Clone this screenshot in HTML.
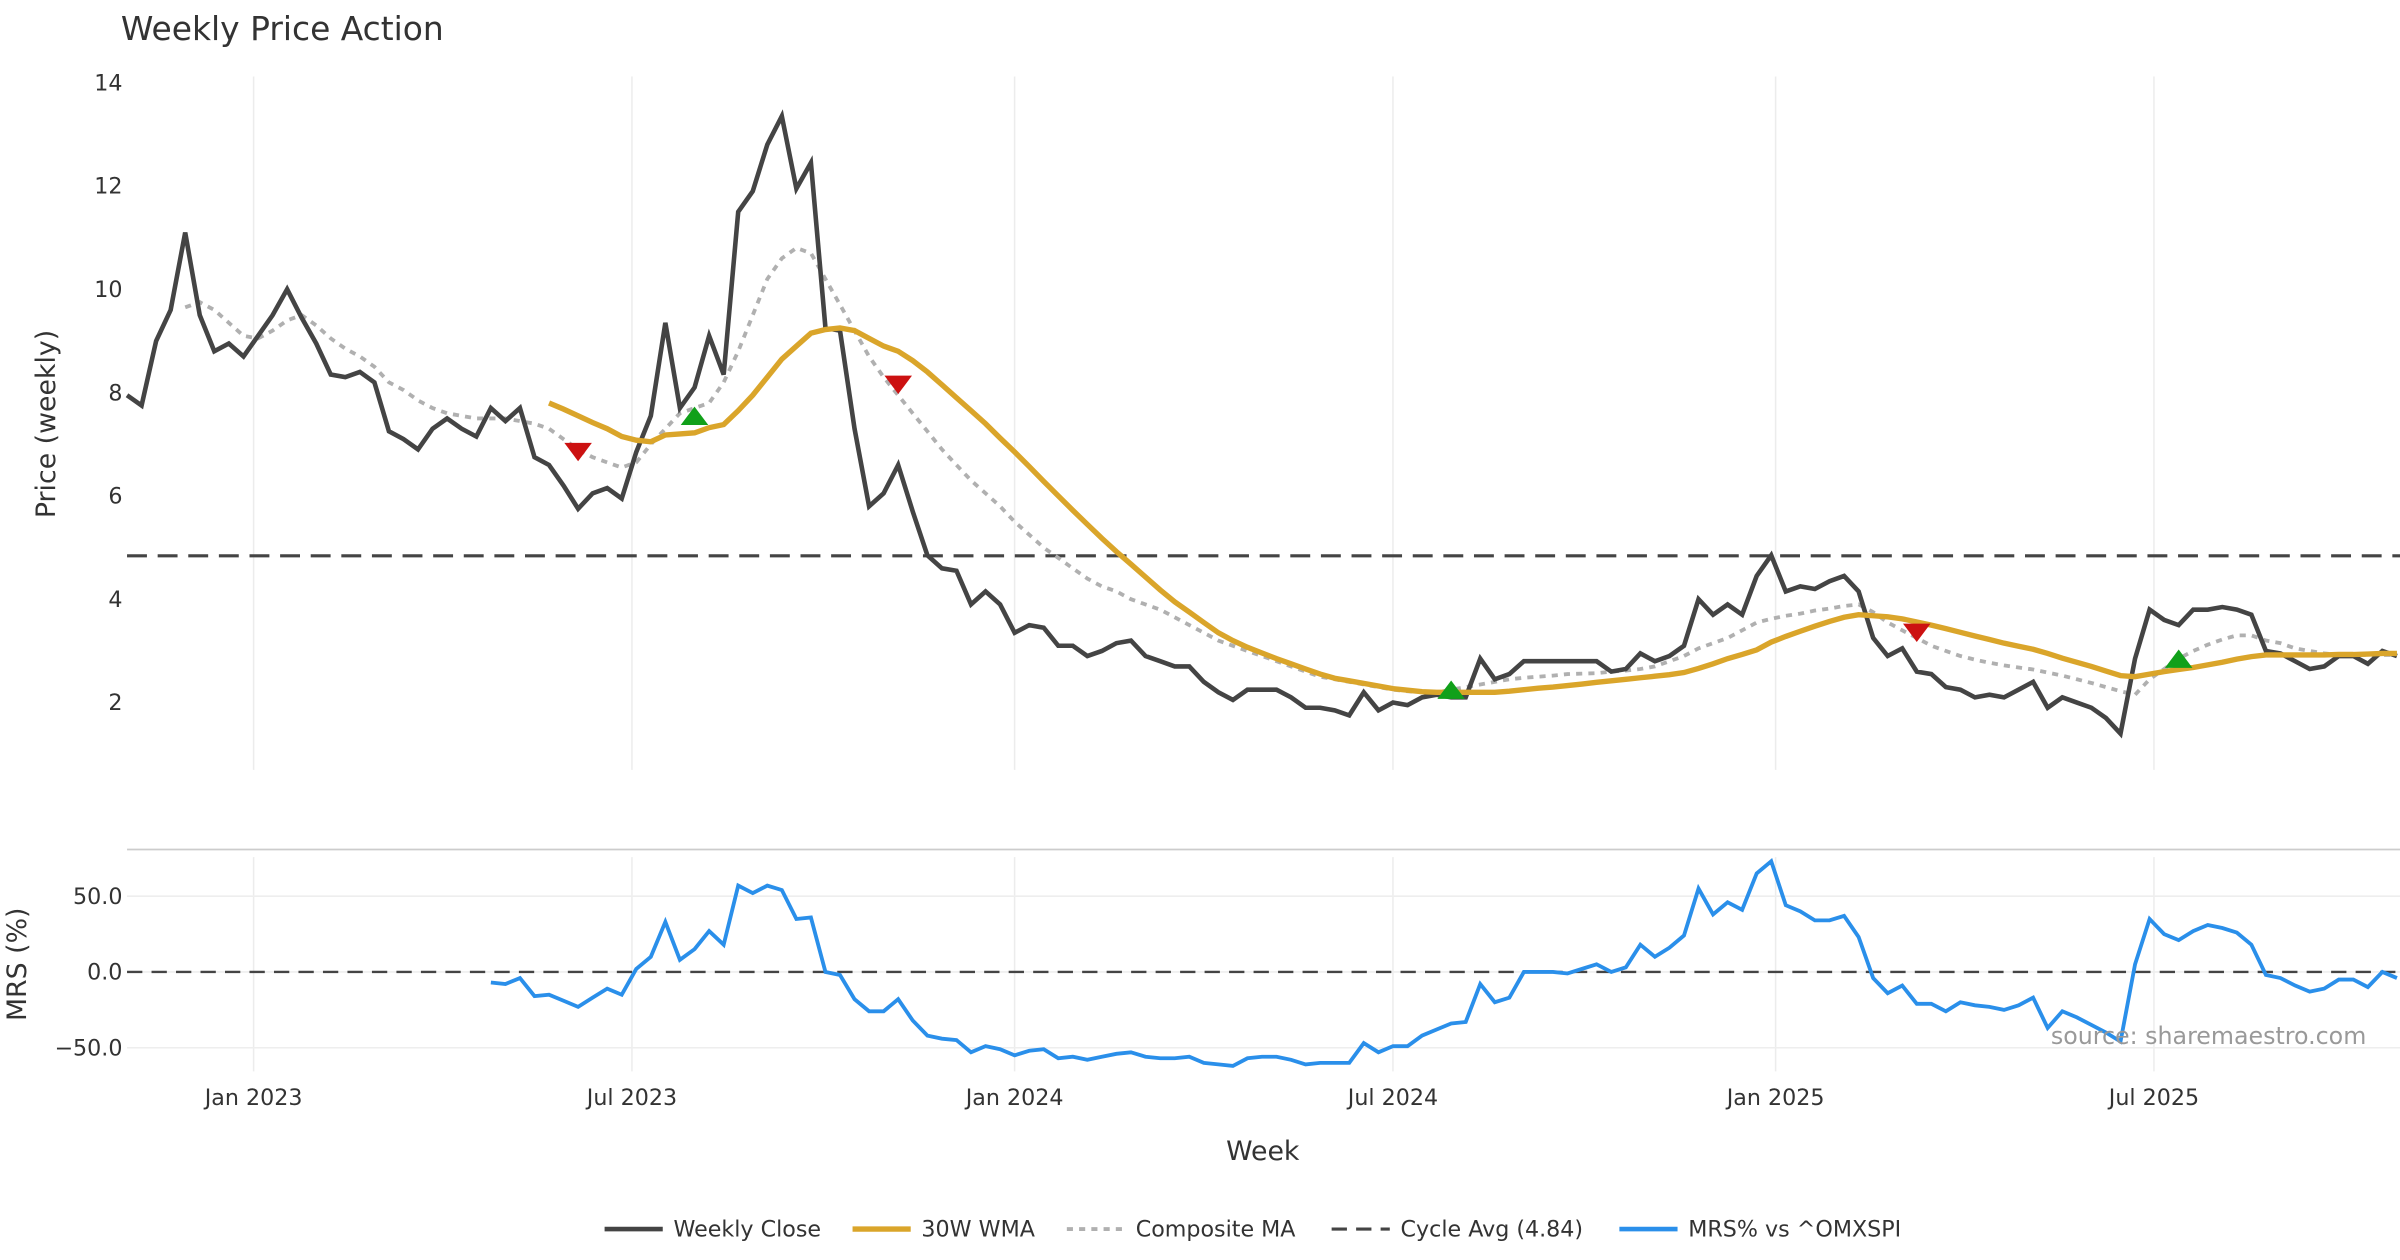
<!DOCTYPE html>
<html><head><meta charset="utf-8"><style>
html,body{margin:0;padding:0;background:#fff}
svg{display:block}
text{font-family:"DejaVu Sans","Liberation Sans",sans-serif}
</style></head><body>
<svg id="chart" width="2400" height="1260" viewBox="0 0 1568 823.2" xmlns="http://www.w3.org/2000/svg">
<rect width="1568" height="823.2" fill="#fff"/>
<text x="79" y="26" font-size="21.5" fill="#333">Weekly Price Action</text>
<g id="grid"></g>
<g id="axes"></g>
<g id="series"></g>
<text transform="translate(36,277) rotate(-90)" text-anchor="middle" font-size="17.5" fill="#333">Price (weekly)</text>
<text transform="translate(17,630) rotate(-90)" text-anchor="middle" font-size="17.5" fill="#333">MRS (%)</text>
<text x="825" y="758" text-anchor="middle" font-size="17.5" fill="#333">Week</text>
<text x="1546" y="682" text-anchor="end" font-size="15.5" fill="#999">source: sharemaestro.com</text>
<g id="legend"></g>
</svg>
<script>
const closeVals=[7.95,7.75,9.0,9.6,11.1,9.5,8.8,8.95,8.7,9.1,9.5,10.0,9.45,8.95,8.35,8.3,8.4,8.2,7.25,7.1,6.9,7.3,7.5,7.3,7.15,7.7,7.45,7.7,6.75,6.6,6.2,5.75,6.05,6.15,5.95,6.85,7.55,9.35,7.7,8.1,9.1,8.35,11.5,11.9,12.8,13.35,11.95,12.45,9.25,9.2,7.3,5.8,6.05,6.6,5.7,4.85,4.6,4.55,3.9,4.15,3.9,3.35,3.5,3.45,3.1,3.1,2.9,3.0,3.15,3.2,2.9,2.8,2.7,2.7,2.4,2.2,2.05,2.25,2.25,2.25,2.1,1.9,1.9,1.85,1.75,2.2,1.85,2.0,1.95,2.1,2.15,2.1,2.1,2.85,2.45,2.55,2.8,2.8,2.8,2.8,2.8,2.8,2.6,2.65,2.95,2.8,2.9,3.1,4.0,3.7,3.9,3.7,4.45,4.85,4.15,4.25,4.2,4.35,4.45,4.15,3.25,2.9,3.05,2.6,2.55,2.3,2.25,2.1,2.15,2.1,2.25,2.4,1.9,2.1,2.0,1.9,1.7,1.4,2.85,3.8,3.6,3.5,3.8,3.8,3.85,3.8,3.7,3.0,2.95,2.8,2.65,2.7,2.9,2.9,2.75,3.0,2.9];
const wmaStart=29;
const wmaVals=[7.8,7.68,7.55,7.42,7.3,7.15,7.08,7.05,7.18,7.2,7.22,7.32,7.38,7.65,7.95,8.3,8.65,8.9,9.15,9.22,9.25,9.2,9.05,8.9,8.8,8.62,8.4,8.15,7.9,7.65,7.4,7.12,6.85,6.57,6.28,6.0,5.72,5.45,5.18,4.92,4.68,4.43,4.18,3.95,3.75,3.55,3.35,3.2,3.07,2.96,2.85,2.75,2.65,2.55,2.47,2.42,2.37,2.32,2.27,2.24,2.21,2.2,2.2,2.2,2.2,2.2,2.22,2.25,2.28,2.3,2.33,2.36,2.39,2.42,2.45,2.48,2.51,2.54,2.58,2.66,2.75,2.85,2.93,3.02,3.17,3.28,3.38,3.48,3.57,3.65,3.7,3.68,3.66,3.62,3.56,3.5,3.43,3.36,3.29,3.22,3.15,3.09,3.03,2.95,2.86,2.78,2.7,2.61,2.52,2.5,2.55,2.6,2.64,2.68,2.73,2.78,2.84,2.89,2.92,2.92,2.92,2.92,2.92,2.93,2.93,2.94,2.95,2.95];
const compStart=4;
const compVals=[9.65,9.75,9.6,9.35,9.1,9.05,9.2,9.4,9.5,9.3,9.05,8.85,8.7,8.5,8.2,8.05,7.85,7.7,7.6,7.55,7.5,7.5,7.5,7.45,7.4,7.3,7.1,6.9,6.75,6.65,6.55,6.65,7.0,7.3,7.6,7.7,7.8,8.2,8.8,9.5,10.2,10.6,10.8,10.7,10.2,9.7,9.2,8.7,8.3,7.95,7.6,7.25,6.9,6.6,6.3,6.05,5.8,5.5,5.25,5.0,4.8,4.6,4.4,4.25,4.15,4.0,3.9,3.8,3.65,3.5,3.35,3.2,3.1,3.0,2.9,2.8,2.7,2.6,2.5,2.45,2.4,2.35,2.3,2.25,2.22,2.2,2.2,2.25,2.3,2.35,2.4,2.45,2.48,2.5,2.52,2.55,2.56,2.57,2.6,2.62,2.65,2.7,2.8,2.9,3.05,3.15,3.25,3.4,3.55,3.62,3.68,3.72,3.78,3.82,3.87,3.9,3.75,3.55,3.4,3.25,3.1,3.0,2.9,2.83,2.77,2.72,2.68,2.64,2.58,2.52,2.45,2.38,2.3,2.22,2.15,2.45,2.65,2.85,3.0,3.12,3.22,3.3,3.3,3.2,3.15,3.05,3.0,2.95,2.92,2.92,2.92,2.92,2.92];
const mrsStart=25;
const mrsVals=[-7,-8,-4,-16,-15,-19,-23,-17,-11,-15,2,10,33,8,15,27,18,57,52,57,54,35,36,0,-2,-18,-26,-26,-18,-32,-42,-44,-45,-53,-49,-51,-55,-52,-51,-57,-56,-58,-56,-54,-53,-56,-57,-57,-56,-60,-61,-62,-57,-56,-56,-58,-61,-60,-60,-60,-47,-53,-49,-49,-42,-38,-34,-33,-8,-20,-17,0,0,0,-1,2,5,0,3,18,10,16,24,55,38,46,41,65,73,44,40,34,34,37,23,-4,-14,-9,-21,-21,-26,-20,-22,-23,-25,-22,-17,-37,-26,-30,-35,-40,-46,5,35,25,21,27,31,29,26,18,-2,-4,-9,-13,-11,-5,-5,-10,0,-4];
const cycleAvg=4.84;
const sellIdx=[31,53,123];
const sellVals=[6.85,8.15,3.35];
const buyIdx=[39,91,141];
const buyVals=[7.55,2.25,2.85];
const priceTicks=[2,4,6,8,10,12,14];
const mrsTicks=[-50,0,50];
const mrsTickLabels=["\u221250.0","0.0","50.0"];
const monthIdx=[8.7,34.7,61,87,113.3,139.3];
const monthLabels=["Jan 2023","Jul 2023","Jan 2024","Jul 2024","Jan 2025","Jul 2025"];

const NS="http://www.w3.org/2000/svg";
const X0=83, STEP=(1566-83)/156;
const xS=i=>X0+i*STEP;
const yP=v=>459-(v-2)*33.75;
const yM=v=>635-v*0.99;
function mk(tag,attrs,parent){const e=document.createElementNS(NS,tag);for(const k in attrs)e.setAttribute(k,attrs[k]);parent.appendChild(e);return e;}
const grid=document.getElementById('grid'),axes=document.getElementById('axes'),ser=document.getElementById('series'),leg=document.getElementById('legend');

monthIdx.forEach((m,k)=>{
  const x=xS(m);
  const g1=mk('line',{x1:x,x2:x,y1:50,y2:503,stroke:'#ececec','stroke-width':1},grid);
  
  
  const g2=mk('line',{x1:x,x2:x,y1:560,y2:700,stroke:'#ececec','stroke-width':1},grid);
  
  
  const t=mk('text',{x:x,y:722,'text-anchor':'middle','font-size':14.5,fill:'#333'},axes);
  t.textContent=monthLabels[k];
  
  
});
priceTicks.forEach(v=>{
  const t=mk('text',{x:80,y:yP(v)+5,'text-anchor':'end','font-size':14.5,fill:'#333'},axes);
  t.textContent=v;
  
  
});
mrsTicks.forEach((v,k)=>{
  const l=mk('line',{x1:83,x2:1568,y1:yM(v),y2:yM(v),stroke:'#eeeeee','stroke-width':1},grid);
  
  
  const t=mk('text',{x:80,y:yM(v)+5,'text-anchor':'end','font-size':14.5,fill:'#333'},axes);
  t.textContent=mrsTickLabels[k];
  
  
});
const sep=mk('line',{x1:83,x2:1568,y1:555,y2:555,stroke:'#cccccc','stroke-width':1.2},axes);



function path(vals,start,ys){return vals.map((v,k)=>(k?'L':'M')+xS(start+k).toFixed(1)+','+ys(v).toFixed(1)).join('');}

const cy=mk('line',{x1:83,x2:1568,y1:yP(cycleAvg),y2:yP(cycleAvg),stroke:'#444','stroke-width':2,'stroke-dasharray':'13,7'},ser);


const zl=mk('line',{x1:83,x2:1568,y1:yM(0),y2:yM(0),stroke:'#444','stroke-width':1.6,'stroke-dasharray':'10,6'},ser);



const cm=mk('path',{d:path(compVals,compStart,yP),fill:'none',stroke:'#b0b0b0','stroke-width':2.5,'stroke-dasharray':'4,4'},ser);


const cl=mk('path',{d:path(closeVals,0,yP),fill:'none',stroke:'#444','stroke-width':3,'stroke-linejoin':'miter'},ser);


const wm=mk('path',{d:path(wmaVals,wmaStart,yP),fill:'none',stroke:'#DAA52A','stroke-width':3.5},ser);


const mr=mk('path',{d:path(mrsVals,mrsStart,yM),fill:'none',stroke:'#2A8FEA','stroke-width':2.5},ser);



sellIdx.forEach((i,k)=>{
  const x=xS(i),y=yP(sellVals[k]);
  const p=mk('polygon',{points:`${x-9},${y-6} ${x+9},${y-6} ${x},${y+6}`,fill:'#CC1111'},ser);
  
  
});
buyIdx.forEach((i,k)=>{
  const x=xS(i),y=yP(buyVals[k]);
  const p=mk('polygon',{points:`${x-9},${y+6} ${x+9},${y+6} ${x},${y-6}`,fill:'#11A01A'},ser);
  
  
});

const legItems=[
 {x:395,label:'Weekly Close',stroke:'#444',dash:'',w:3},
 {x:557,label:'30W WMA',stroke:'#DAA52A',dash:'',w:3.5},
 {x:697,label:'Composite MA',stroke:'#b0b0b0',dash:'4,4',w:2.5},
 {x:870,label:'Cycle Avg (4.84)',stroke:'#444',dash:'10,6',w:2},
 {x:1058,label:'MRS% vs ^OMXSPI',stroke:'#2A8FEA',dash:'',w:3}
];
legItems.forEach(it=>{
  const l=mk('line',{x1:it.x,x2:it.x+38,y1:803,y2:803,stroke:it.stroke,'stroke-width':it.w,'stroke-dasharray':it.dash},leg);
  
  
  const t=mk('text',{x:it.x+45,y:808,'font-size':14.5,fill:'#333'},leg);
  t.textContent=it.label;
  
  
});
</script>
</body></html>
